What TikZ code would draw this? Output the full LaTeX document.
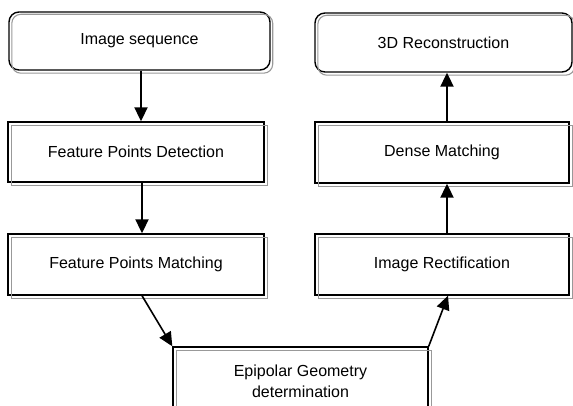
\documentclass[tikz,border=0pt]{standalone}
\usepackage{fontspec}
\setmainfont{Liberation Sans}
\usetikzlibrary{arrows.meta,calc}
\begin{document}
\begin{tikzpicture}[x=1pt,y=-1pt,
  every node/.style={font=\fontsize{16}{21}\selectfont},
  stepbox/.style={draw=black,line width=1.4pt,fill=white,align=center,inner sep=0pt},
  endbox/.style={stepbox,rounded corners=10pt},
  flow/.style={line width=2pt,-{Triangle[length=14pt,width=13pt]}},
  slant/.style={line width=1.6pt,-{Triangle[length=14pt,width=13pt]}},
  rim/.style={draw=black!40,line width=1.1pt}]
\useasboundingbox (0,0) rectangle (573,406);
\clip (0,0) rectangle (573,406);

% process boxes
\node[endbox,minimum width=261pt,minimum height=58pt] (seq) at (139.5,41) {Image sequence};
\node[endbox,minimum width=257pt,minimum height=59pt] (recon) at (443.5,42.5) {3D Reconstruction};
\node[stepbox,minimum width=256pt,minimum height=60pt] (fpd) at (136,152) {Feature Points Detection};
\node[stepbox,minimum width=254pt,minimum height=61pt] (dense) at (442,152.5) {Dense Matching};
\node[stepbox,minimum width=256pt,minimum height=61pt] (fpm) at (136,264.5) {Feature Points Matching};
\node[stepbox,minimum width=254pt,minimum height=61pt] (rectif) at (442,264.5) {Image Rectification};
\node[stepbox,minimum width=255pt,minimum height=69pt] (epi) at (300.5,381.5) {Epipolar Geometry\\determination};

% grey inner rims
\foreach \n in {fpd,dense,fpm,rectif,epi}
  \draw[rim] ([shift={(4,4)}]\n.north west) rectangle ([shift={(2.5,3)}]\n.south east);
\foreach \n in {seq,recon}
  \draw[rim,rounded corners=9pt] ([shift={(3.5,3)}]\n.north west) rectangle ([shift={(2,2.5)}]\n.south east);

% connectors
\draw[flow] ([xshift=1.5]seq.south) -- ([xshift=5]fpd.north);
\draw[flow] ([xshift=6]fpd.south) -- ([xshift=6]fpm.north);
\draw[slant] ([xshift=6]fpm.south) -- (epi.north west);
\draw[slant] (epi.north east) -- ([xshift=6]rectif.south);
\draw[flow] ([xshift=5]rectif.north) -- ([xshift=5]dense.south);
\draw[flow] ([xshift=5]dense.north) -- ([xshift=3.5]recon.south);
\end{tikzpicture}
\end{document}
